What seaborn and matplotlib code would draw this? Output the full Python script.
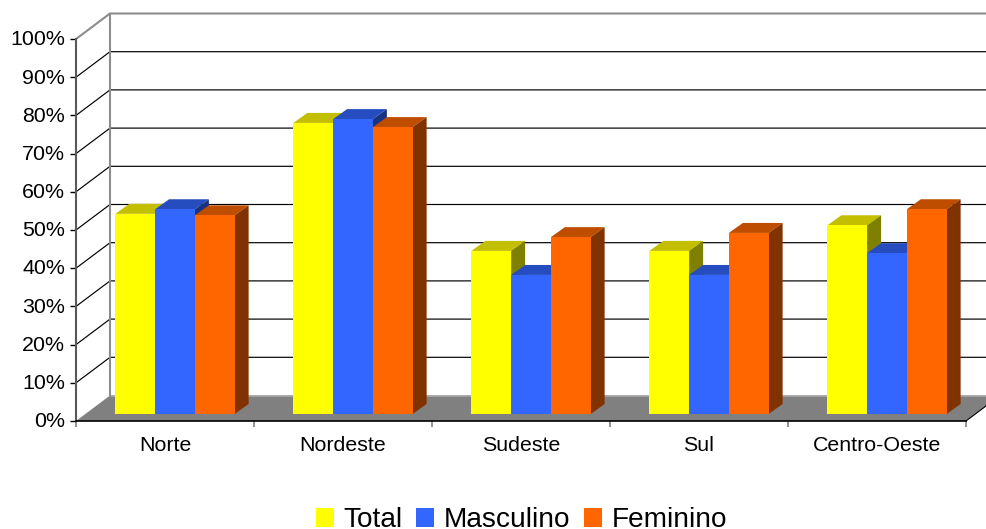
import matplotlib
matplotlib.use("Agg")
import matplotlib.pyplot as plt
from matplotlib.patches import Polygon
from matplotlib.transforms import ScaledTranslation
import pandas as pd
import seaborn as sns

regions = ["Norte", "Nordeste", "Sudeste", "Sul", "Centro-Oeste"]
total = [52.4, 76.2, 42.7, 42.7, 49.4]
masculino = [53.6, 77.2, 36.4, 36.4, 42.1]
feminino = [52.0, 75.1, 46.3, 47.4, 53.6]
series_names = ["Total", "Masculino", "Feminino"]
y_ticks = [0, 10, 20, 30, 40, 50, 60, 70, 80, 90, 100]

front_colors = ["#FFFF00", "#3366FF", "#FF6600"]
top_colors = ["#C4BE00", "#264DBF", "#BF4D00"]
side_colors = ["#808000", "#1A3380", "#803300"]

W, H = 986, 529
sns.set_theme(style="white")
plt.rcParams["font.family"] = ["Liberation Sans", "DejaVu Sans"]

df = pd.DataFrame({
    "Região": regions * 3,
    "Série": sum([[n] * len(regions) for n in series_names], []),
    "Valor": total + masculino + feminino,
})

fig = plt.figure(figsize=(W / 100, H / 100), dpi=100, facecolor="white")


def axes_px(left, right, top, bottom):
    return fig.add_axes([left / W, 1 - bottom / H, (right - left) / W, (bottom - top) / H])


# Front plane of the 3D box: carries the real axes, ticks and labels
ax = axes_px(76, 966, 39, 421)
ax.patch.set_alpha(0)
ax.set_xlim(-0.5, 4.5)
ax.set_ylim(0, 100)
PX_X = 5 / 890   # data units per pixel
PX_Y = 100 / 382
back_dx, back_dy = 34 * PX_X, 25.5 * PX_Y

# Floor
ax.add_patch(Polygon([(-0.5, 0), (4.5, 0), (4.5 + back_dx, back_dy), (-0.5 + back_dx, back_dy)],
                     closed=True, fc="#808080", ec="none", clip_on=False, zorder=1))
# Right floor edge
ax.plot([4.5, 4.5 + back_dx], [0, back_dy], color="black", lw=0.8, clip_on=False, zorder=2)

# Walls and grid lines
for v in y_ticks[1:-1]:
    ax.plot([-0.5, -0.5 + back_dx, 4.5 + back_dx], [v, v + back_dy, v + back_dy],
            color="black", lw=0.85, clip_on=False, zorder=1.5)
ax.plot([-0.5, -0.5 + back_dx, 4.5 + back_dx], [100, 100 + back_dy, 100 + back_dy],
        color="#8C8C8C", lw=1.5, clip_on=False, zorder=1.6)
ax.plot([-0.5 + back_dx, -0.5 + back_dx], [back_dy, 100 + back_dy],
        color="#8C8C8C", lw=1.5, clip_on=False, zorder=1.6)
ax.plot([-0.5 + back_dx, 4.5 + back_dx], [back_dy, back_dy],
        color="#A8A8A8", lw=1.2, clip_on=False, zorder=1.55)

for s in ["top", "right"]:
    ax.spines[s].set_visible(False)
ax.spines["left"].set_color("#595959")
ax.spines["left"].set_linewidth(1.5)
ax.spines["bottom"].set_color("black")
ax.spines["bottom"].set_linewidth(1.2)

ax.set_yticks(y_ticks)
ax.set_yticklabels([f"{v}%" for v in y_ticks])
ax.tick_params(axis="y", which="major", left=True, length=4.3, width=1, color="black",
               pad=3.6, labelsize=15.4, labelcolor="black")
for lab in ax.get_yticklabels():
    lab.set_transform(lab.get_transform() + ScaledTranslation(0, 1.2 / 100, fig.dpi_scale_trans))
ax.set_xticks([i - 0.5 for i in range(len(regions) + 1)])
ax.set_xticklabels([""] * (len(regions) + 1))
ax.set_xticks(range(len(regions)), minor=True)
ax.set_xticklabels(regions, minor=True)
ax.tick_params(axis="x", which="major", bottom=True, length=4.5, width=1.2, color="#808080")
ax.tick_params(axis="x", which="minor", bottom=False, length=0, pad=11,
               labelsize=15.4, labelcolor="black")

# Bar plane, set back a little from the front plane
bx = axes_px(86, 976, 32, 414)
bx.patch.set_alpha(0)
sns.barplot(data=df, x="Região", y="Valor", hue="Série", order=regions, hue_order=series_names,
            palette=front_colors, saturation=1, width=0.67, gap=0, linewidth=0, ax=bx)
bx.set_xlim(-0.5, 4.5)
bx.set_ylim(0, 100)
handles, labels = bx.get_legend_handles_labels()
bx.get_legend().remove()
bx.axis("off")

dx, dy = 14 * PX_X, 10 * PX_Y
bars = []
for j, cont in enumerate(bx.containers):
    for rect in cont:
        bars.append((rect, j))
bars.sort(key=lambda t: t[0].get_x())
for k, (rect, j) in enumerate(bars):
    x0, x1, h = rect.get_x(), rect.get_x() + rect.get_width(), rect.get_height()
    base = 3 + k * 3
    rect.set_zorder(base + 2)
    rect.set_clip_on(False)
    bx.add_patch(Polygon([(x0, h), (x1, h), (x1 + dx, h + dy), (x0 + dx, h + dy)], closed=True,
                         fc=top_colors[j], ec="none", clip_on=False, zorder=base))
    bx.add_patch(Polygon([(x1, 0), (x1 + dx, dy), (x1 + dx, h + dy), (x1, h)], closed=True,
                         fc=side_colors[j], ec="none", clip_on=False, zorder=base + 1))

fig.legend(handles, labels, loc="lower center", bbox_to_anchor=(521.5 / W, -0.008), ncol=3,
           frameon=False, fontsize=20.2, handlelength=0.64, handleheight=0.64,
           handletextpad=0.33, columnspacing=0.5, borderpad=0, borderaxespad=0,
           labelcolor="black")

fig.savefig("out.png", dpi=100, facecolor="white")
